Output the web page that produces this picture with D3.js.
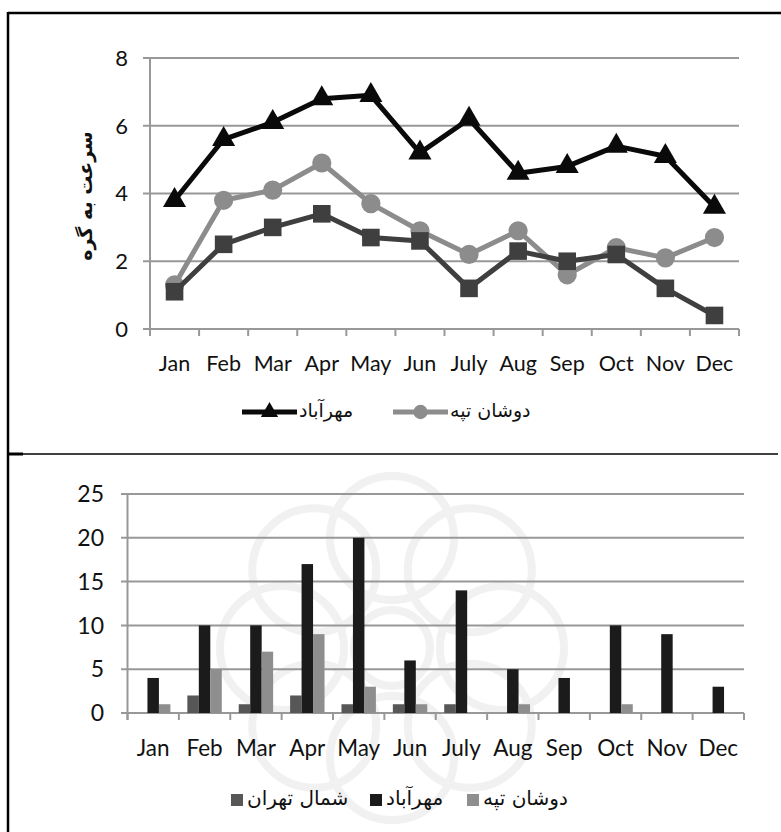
<!DOCTYPE html>
<html>
<head>
<meta charset="utf-8">
<script src="https://cdn.jsdelivr.net/npm/d3@7"></script>
<style>
  html, body { margin: 0; padding: 0; background: #fff; }
  svg { display: block; }
  .num { font-family: Lato, "Open Sans", sans-serif; fill: #111; }
  .fa { font-family: "DejaVu Sans", sans-serif; fill: #111; }
</style>
</head>
<body>
<svg id="chart" width="781" height="832"></svg>
<script>
// ---------- data ----------
const months = ["Jan","Feb","Mar","Apr","May","Jun","July","Aug","Sep","Oct","Nov","Dec"];

// top chart: speed (knots)
const speedMehrabad = [3.8,5.6,6.1,6.8,6.9,5.2,6.2,4.6,4.8,5.4,5.1,3.6];
const speedDoshan   = [1.3,3.8,4.1,4.9,3.7,2.9,2.2,2.9,1.6,2.4,2.1,2.7];
const speedShomal   = [1.1,2.5,3.0,3.4,2.7,2.6,1.2,2.3,2.0,2.2,1.2,0.4];
const speedTicks = [0,2,4,6,8];
const speedTitle = "سرعت به گره";

// bottom chart: counts
const countShomal   = [0,2,1,2,1,1,1,0,0,0,0,0];
const countMehrabad = [4,10,10,17,20,6,14,5,4,10,9,3];
const countDoshan   = [1,5,7,9,3,1,0,1,0,1,0,0];
const countTicks = [0,5,10,15,20,25];

const nameShomal = "شمال تهران";
const nameMehrabad = "مهرآباد";
const nameDoshan = "دوشان تپه";

// ---------- drawing ----------
const svg = d3.select("#chart");

// faint background watermark (decorative rosette)
const wm = svg.append("g").attr("fill", "none").attr("stroke", "#f1f1f1").attr("stroke-width", 8);
const wcx = 392, wcy = 648;
d3.range(8).forEach(i => {
  const a = i * Math.PI / 4 - Math.PI / 2;
  wm.append("circle").attr("cx", wcx + 110 * Math.cos(a)).attr("cy", wcy + 110 * Math.sin(a)).attr("r", 62);
});
wm.append("circle").attr("cx", wcx).attr("cy", wcy).attr("r", 38);

// frame
svg.append("line").attr("x1", 8).attr("x2", 781).attr("y1", 13).attr("y2", 13).attr("stroke", "#000").attr("stroke-width", 2.5);
svg.append("line").attr("x1", 8).attr("x2", 8).attr("y1", 12).attr("y2", 832).attr("stroke", "#000").attr("stroke-width", 2.5);
svg.append("line").attr("x1", 8).attr("x2", 778).attr("y1", 454).attr("y2", 454).attr("stroke", "#000").attr("stroke-width", 1.4);
svg.append("line").attr("x1", 8).attr("x2", 23).attr("y1", 454).attr("y2", 454).attr("stroke", "#000").attr("stroke-width", 3);

// ===== TOP CHART =====
const xT = d3.scaleBand().domain(months).range([150, 739]);
const yT = d3.scaleLinear().domain([0, 8]).range([329, 58]);
const gT = svg.append("g");

gT.selectAll(".gridT").data(speedTicks).join("line")
  .attr("x1", 143).attr("x2", xT.range()[1])
  .attr("y1", d => yT(d)).attr("y2", d => yT(d))
  .attr("stroke", "#989898").attr("stroke-width", 2);
gT.append("line").attr("x1", 150).attr("x2", 150).attr("y1", yT(8)).attr("y2", yT(0) + 7)
  .attr("stroke", "#989898").attr("stroke-width", 2);
gT.selectAll(".tickT").data(d3.range(13)).join("line")
  .attr("x1", i => xT.range()[0] + i * xT.step()).attr("x2", i => xT.range()[0] + i * xT.step())
  .attr("y1", yT(0)).attr("y2", yT(0) + 7)
  .attr("stroke", "#989898").attr("stroke-width", 2);
gT.selectAll(".ylT").data(speedTicks).join("text").attr("class", "num")
  .attr("x", 128).attr("y", d => yT(d)).attr("dy", "0.36em")
  .attr("text-anchor", "end").attr("font-size", 22).text(d => d);
gT.selectAll(".xlT").data(months).join("text").attr("class", "num")
  .attr("x", d => xT(d) + xT.bandwidth() / 2).attr("y", 363).attr("dy", "0.36em")
  .attr("text-anchor", "middle").attr("font-size", 21.5).text(d => d);
gT.append("text").attr("class", "fa")
  .attr("transform", "translate(85,196) rotate(-90)")
  .attr("text-anchor", "middle").attr("dy", "0.35em")
  .attr("font-size", 19).attr("font-weight", "bold").text(speedTitle);

const lineT = d3.line().x((d, i) => xT(months[i]) + xT.bandwidth() / 2).y(d => yT(d));
const seriesT = [
  { vals: speedDoshan, color: "#8c8c8c", sym: d3.symbolCircle, size: 290 },
  { vals: speedShomal, color: "#3f3f3f", sym: d3.symbolSquare, size: 310 },
  { vals: speedMehrabad, color: "#0a0a0a", sym: d3.symbolTriangle, size: 230 }
];
seriesT.forEach(s => {
  gT.append("path").attr("d", lineT(s.vals)).attr("fill", "none")
    .attr("stroke", s.color).attr("stroke-width", 5).attr("stroke-linejoin", "round");
  gT.selectAll(null).data(s.vals).join("path")
    .attr("transform", (d, i) => `translate(${xT(months[i]) + xT.bandwidth() / 2},${yT(d)})`)
    .attr("d", d3.symbol().type(s.sym).size(s.size)).attr("fill", s.color);
});

// top legend
const legT = svg.append("g");
const legTItems = [
  { x: 242, color: "#0a0a0a", sym: d3.symbolTriangle, size: 130, name: nameMehrabad },
  { x: 393, color: "#8c8c8c", sym: d3.symbolCircle, size: 160, name: nameDoshan }
];
legTItems.forEach(it => {
  legT.append("line").attr("x1", it.x).attr("x2", it.x + 55).attr("y1", 412).attr("y2", 412)
    .attr("stroke", it.color).attr("stroke-width", 5);
  legT.append("path").attr("transform", `translate(${it.x + 27.5},412)`)
    .attr("d", d3.symbol().type(it.sym).size(it.size)).attr("fill", it.color);
  legT.append("text").attr("class", "fa").attr("x", it.x + 57).attr("y", 411).attr("dy", "0.3em")
    .attr("text-anchor", "start").attr("font-size", 19).text(it.name);
});

// ===== BOTTOM CHART =====
const xB = d3.scaleBand().domain(months).range([127.5, 744]).paddingInner(0.33).paddingOuter(0.165);
const stepB = (744 - 127.5) / 12;
const keysB = ["shomal", "mehrabad", "doshan"];
const xBi = d3.scaleBand().domain(keysB).range([0, xB.bandwidth()]);
const yB = d3.scaleLinear().domain([0, 25]).range([713, 494]);
const colorsB = { shomal: "#575757", mehrabad: "#1b1b1b", doshan: "#8e8e8e" };
const barData = months.map((m, i) => ({ m, shomal: countShomal[i], mehrabad: countMehrabad[i], doshan: countDoshan[i] }));
const gB = svg.append("g");

gB.selectAll(".gridB").data(countTicks).join("line")
  .attr("x1", 121).attr("x2", 744)
  .attr("y1", d => yB(d)).attr("y2", d => yB(d))
  .attr("stroke", "#989898").attr("stroke-width", 2);
gB.append("line").attr("x1", 127.5).attr("x2", 127.5).attr("y1", yB(25)).attr("y2", yB(0) + 7)
  .attr("stroke", "#989898").attr("stroke-width", 2);
gB.selectAll(".tickB").data(d3.range(13)).join("line")
  .attr("x1", i => 127.5 + i * stepB).attr("x2", i => 127.5 + i * stepB)
  .attr("y1", yB(0)).attr("y2", yB(0) + 7)
  .attr("stroke", "#989898").attr("stroke-width", 2);
gB.selectAll(".ylB").data(countTicks).join("text").attr("class", "num")
  .attr("x", 104).attr("y", d => yB(d)).attr("dy", "0.36em")
  .attr("text-anchor", "end").attr("font-size", 23).text(d => d);
gB.selectAll(".xlB").data(months).join("text").attr("class", "num")
  .attr("x", d => xB(d) + xB.bandwidth() / 2).attr("y", 748).attr("dy", "0.36em")
  .attr("text-anchor", "middle").attr("font-size", 22.5).text(d => d);

gB.selectAll(".grp").data(barData).join("g")
  .attr("transform", d => `translate(${xB(d.m)},0)`)
  .selectAll("rect").data(d => keysB.map(k => ({ k, v: d[k] }))).join("rect")
  .attr("x", d => xBi(d.k)).attr("width", xBi.bandwidth())
  .attr("y", d => yB(d.v)).attr("height", d => yB(0) - yB(d.v))
  .attr("fill", d => colorsB[d.k]);

// bottom legend
const legB = svg.append("g");
const legBItems = [
  { x: 231, k: "shomal", name: nameShomal },
  { x: 370, k: "mehrabad", name: nameMehrabad },
  { x: 467, k: "doshan", name: nameDoshan }
];
legBItems.forEach(it => {
  legB.append("rect").attr("x", it.x).attr("y", 794).attr("width", 12).attr("height", 12)
    .attr("fill", colorsB[it.k]);
  legB.append("text").attr("class", "fa").attr("x", it.x + 16).attr("y", 799).attr("dy", "0.3em")
    .attr("text-anchor", "start").attr("font-size", 20).text(it.name);
});
</script>
</body>
</html>
